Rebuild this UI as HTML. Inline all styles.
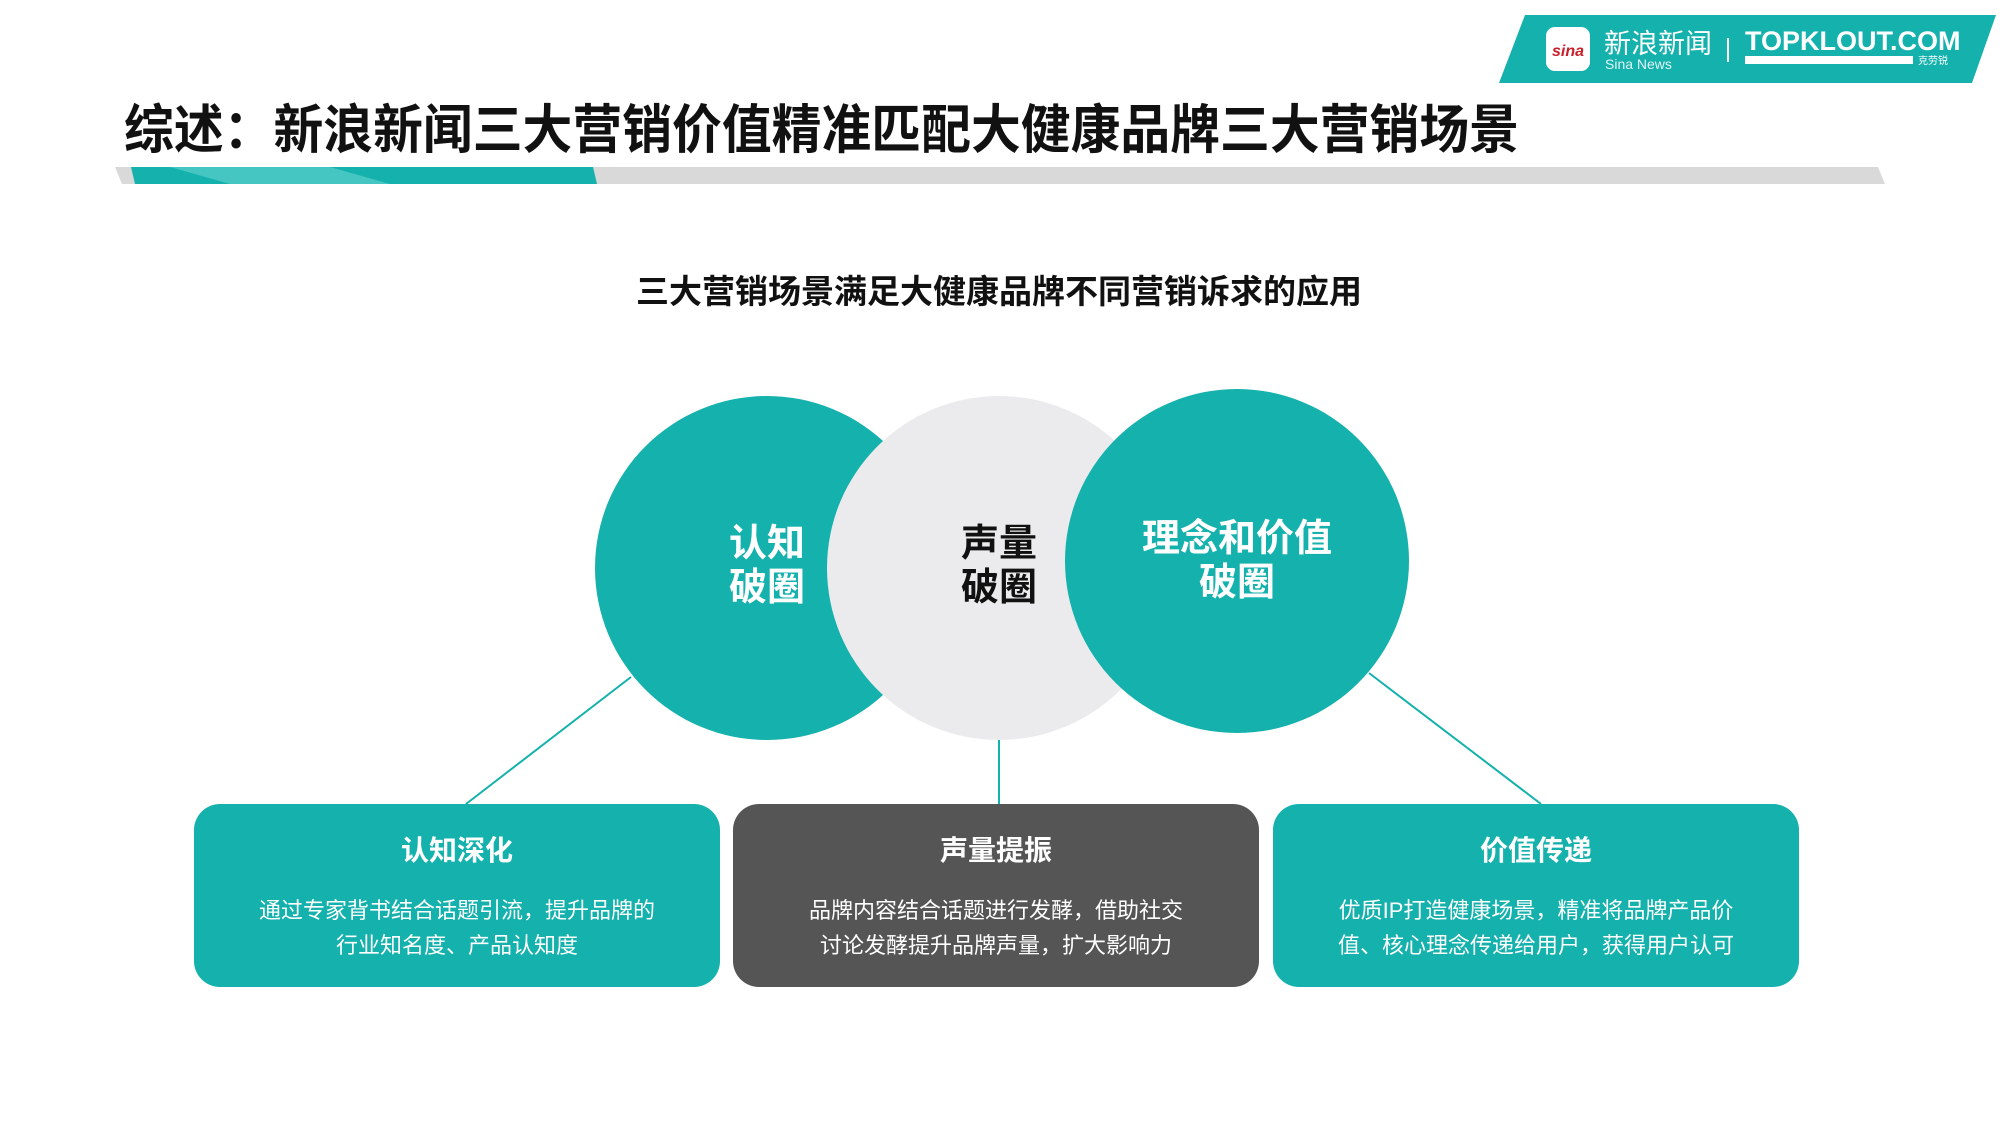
<!DOCTYPE html>
<html><head><meta charset="utf-8"><style>
*{margin:0;padding:0;box-sizing:border-box}
body{width:2000px;height:1125px;background:#fff;position:relative;overflow:hidden;font-family:"Liberation Sans","Noto Sans CJK SC",sans-serif}
.abs{position:absolute}
.t{position:absolute;text-align:center;font-weight:bold;white-space:nowrap}
.box{position:absolute;top:804px;width:526px;height:183px;border-radius:26px;color:#fff;text-align:center}
.box h3{font-size:28px;margin-top:30px;line-height:34px}
.box p{font-size:22px;line-height:35px;margin-top:25px}
</style></head><body>
<svg class="abs" style="left:0;top:0" width="2000" height="1125">
<polygon points="1525,15 1996,15 1972,83 1499,83" fill="#14b1ad"/>
<rect x="1546" y="27" width="44" height="44" rx="9" fill="#fff"/>
<text x="1568" y="56" font-size="16" font-weight="bold" fill="#c8202a" text-anchor="middle" font-style="italic" font-family="Liberation Sans">sina</text>
<text x="1604" y="53" font-size="27" fill="#fff" font-family="Noto Sans CJK SC">新浪新闻</text>
<text x="1605" y="69" font-size="14" fill="#e0f5f4" font-family="Liberation Sans">Sina News</text>
<rect x="1727" y="38" width="2" height="24" fill="#fff"/>
<text x="1745" y="50" font-size="27" font-weight="bold" fill="#fff" font-family="Liberation Sans">TOPKLOUT.COM</text>
<rect x="1745" y="56" width="168" height="8" fill="#fff"/>
<text x="1918" y="64" font-size="10" fill="#fff" font-family="Noto Sans CJK SC">克劳锐</text>
<polygon points="115,167 1878,167 1885,184 122,184" fill="#d9d9d9"/>
<polygon points="131,167 593,167 597,184 135,184" fill="#14b1ad"/>
<polygon points="170,167 330,167 390,184 230,184" fill="#45c6c2"/>
<line x1="631" y1="677" x2="466" y2="804" stroke="#14b1ad" stroke-width="2"/>
<line x1="999" y1="740" x2="999" y2="804" stroke="#14b1ad" stroke-width="2"/>
<line x1="1369" y1="673" x2="1541" y2="804" stroke="#14b1ad" stroke-width="2"/>
<circle cx="767" cy="568" r="172" fill="#14b1ad"/>
<circle cx="999" cy="568" r="172" fill="#ebebed"/>
<circle cx="1237" cy="561" r="172" fill="#14b1ad"/>
</svg>
<div class="t" style="left:124px;top:100px;font-size:53px;line-height:62px;color:#111;transform:scaleX(0.94);transform-origin:left center">综述：新浪新闻三大营销价值精准匹配大健康品牌三大营销场景</div>
<div class="t" style="left:634px;top:272px;width:730px;font-size:33px;line-height:40px;color:#111">三大营销场景满足大健康品牌不同营销诉求的应用</div>
<div class="t" style="left:667px;top:522px;width:200px;font-size:38px;line-height:44px;color:#fff">认知<br>破圈</div>
<div class="t" style="left:899px;top:522px;width:200px;font-size:38px;line-height:44px;color:#111">声量<br>破圈</div>
<div class="t" style="left:1087px;top:517px;width:300px;font-size:38px;line-height:44px;color:#fff">理念和价值<br>破圈</div>
<div class="box" style="left:194px;background:#14b1ad"><h3>认知深化</h3><p>通过专家背书结合话题引流，提升品牌的<br>行业知名度、产品认知度</p></div>
<div class="box" style="left:733px;background:#555555"><h3>声量提振</h3><p>品牌内容结合话题进行发酵，借助社交<br>讨论发酵提升品牌声量，扩大影响力</p></div>
<div class="box" style="left:1273px;background:#14b1ad"><h3>价值传递</h3><p>优质IP打造健康场景，精准将品牌产品价<br>值、核心理念传递给用户，获得用户认可</p></div>
</body></html>
